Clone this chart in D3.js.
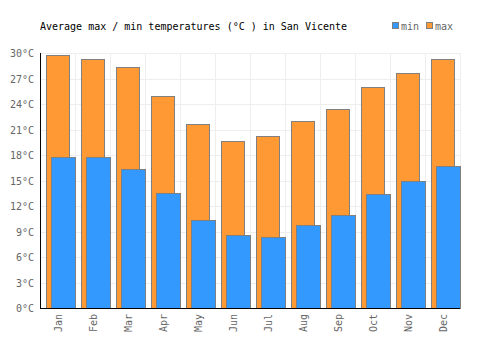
<!DOCTYPE html>
<html>
<head>
<meta charset="utf-8">
<script src="https://cdn.jsdelivr.net/npm/d3@7"></script>
<style>
  body { margin: 0; background: #fff; }
  text { font-family: "DejaVu Sans Mono", monospace; }
</style>
</head>
<body>
<div id="chart"></div>
<script>
const months = ['Jan', 'Feb', 'Mar', 'Apr', 'May', 'Jun', 'Jul', 'Aug', 'Sep', 'Oct', 'Nov', 'Dec'];
const maxTemps = [29.8, 29.3, 28.3, 25.0, 21.6, 19.6, 20.2, 22.0, 23.4, 26.0, 27.7, 29.3];
const minTemps = [17.8, 17.8, 16.4, 13.5, 10.4, 8.6, 8.4, 9.8, 11.0, 13.4, 15.0, 16.7];
const yTicks = [0, 3, 6, 9, 12, 15, 18, 21, 24, 27, 30];

const width = 500, height = 350;
const margin = { top: 53, right: 40, bottom: 42, left: 40 };

const svg = d3.select('#chart').append('svg')
  .attr('width', width)
  .attr('height', height);

const x = d3.scaleBand()
  .domain(months)
  .range([margin.left, width - margin.right]);

const y = d3.scaleLinear()
  .domain([0, 30])
  .range([height - margin.bottom, margin.top]);

const bw = x.bandwidth();

// grid
const grid = svg.append('g').attr('stroke', '#eeeeee').attr('stroke-width', 1);
grid.selectAll('.hg').data(yTicks).enter().append('line')
  .attr('x1', margin.left).attr('x2', width - margin.right)
  .attr('y1', d => Math.round(y(d)) + 0.5).attr('y2', d => Math.round(y(d)) + 0.5);
grid.selectAll('.vg').data(months.slice(1).concat(['end'])).enter().append('line')
  .attr('x1', (d, i) => Math.round(margin.left + bw * (i + 1)) + 0.5)
  .attr('x2', (d, i) => Math.round(margin.left + bw * (i + 1)) + 0.5)
  .attr('y1', y(30)).attr('y2', y(0));

// max bars
svg.append('g').selectAll('rect').data(maxTemps).enter().append('rect')
  .attr('x', (d, i) => Math.round(x(months[i]) + 6) + 0.5)
  .attr('width', 23)
  .attr('y', d => Math.round(y(d)) + 0.5)
  .attr('height', d => y(0) - Math.round(y(d)))
  .attr('fill', '#ff9933')
  .attr('stroke', '#808080')
  .attr('stroke-width', 1);

// min bars
svg.append('g').selectAll('rect').data(minTemps).enter().append('rect')
  .attr('x', (d, i) => Math.round(x(months[i]) + 11) + 0.5)
  .attr('width', 24)
  .attr('y', d => Math.round(y(d)) + 0.5)
  .attr('height', d => y(0) - Math.round(y(d)))
  .attr('fill', '#3399ff')
  .attr('stroke', '#808080')
  .attr('stroke-width', 1);

// axes lines
svg.append('line')
  .attr('x1', margin.left + 0.5).attr('x2', margin.left + 0.5)
  .attr('y1', y(30)).attr('y2', y(0) + 1)
  .attr('stroke', '#000');
svg.append('line')
  .attr('x1', margin.left).attr('x2', width - margin.right)
  .attr('y1', y(0) + 0.5).attr('y2', y(0) + 0.5)
  .attr('stroke', '#000');

// y labels
svg.append('g').selectAll('text').data(yTicks).enter().append('text')
  .attr('x', 34)
  .attr('y', d => y(d) + 4)
  .attr('text-anchor', 'end')
  .attr('font-size', 10)
  .attr('fill', '#666')
  .text(d => d + '°C');

// x labels
svg.append('g').selectAll('text').data(months).enter().append('text')
  .attr('transform', d => `translate(${x(d) + bw / 2 + 4},${y(0) + 6}) rotate(-90)`)
  .attr('text-anchor', 'end')
  .attr('font-size', 10)
  .attr('fill', '#666')
  .text(d => d);

// title
svg.append('text')
  .attr('x', 40).attr('y', 30)
  .attr('font-size', 10)
  .attr('fill', '#000')
  .text('Average max / min temperatures (°C ) in San Vicente');

// legend
const legend = [{ name: 'min', color: '#3399ff', x: 392 }, { name: 'max', color: '#ff9933', x: 426 }];
const lg = svg.append('g').selectAll('g').data(legend).enter().append('g');
lg.append('rect')
  .attr('x', d => d.x + 0.5).attr('y', 22.5)
  .attr('width', 6).attr('height', 6)
  .attr('fill', d => d.color)
  .attr('stroke', '#808080');
lg.append('text')
  .attr('x', d => d.x + 9).attr('y', 30)
  .attr('font-size', 10)
  .attr('fill', '#666')
  .text(d => d.name);
</script>
</body>
</html>
